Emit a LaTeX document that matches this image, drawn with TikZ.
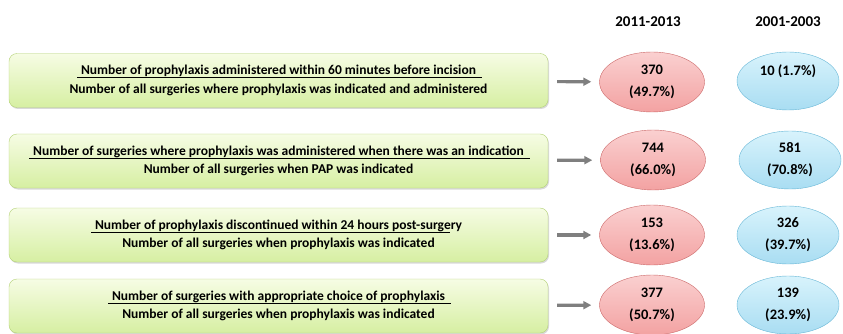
\documentclass[tikz,border=0pt]{standalone}
\usepackage{fontspec}
\setmainfont{Carlito}
\usepackage{tikz}
\usetikzlibrary{positioning,arrows.meta,shapes.geometric,shadows}

\definecolor{BoxLine}{HTML}{B4D277}
\definecolor{BoxTop}{HTML}{F6FCE4}
\definecolor{BoxBottom}{HTML}{D6EFA2}
\definecolor{RedLine}{HTML}{CC6A6A}
\definecolor{RedTop}{HTML}{FAD0D0}
\definecolor{RedBottom}{HTML}{F3A2A2}
\definecolor{BlueLine}{HTML}{66B6D6}
\definecolor{BlueTop}{HTML}{D8F3FC}
\definecolor{BlueBottom}{HTML}{A9DDF2}
\definecolor{ArrowGray}{HTML}{7F7F7F}

% numerator with the fraction line under it
\newcommand{\numline}[1]{\setbox0\hbox{#1}\rlap{\hspace{-4pt}\rule[-3.5pt]{\dimexpr\wd0+10pt\relax}{1pt}}\box0}

\begin{document}
\begin{tikzpicture}[
x=1pt, y=-1pt,
ratiobox/.style={draw=BoxLine, rounded corners=8pt, minimum width=539pt, minimum height=54pt, align=center, font=\bfseries\fontsize{13.5}{18.5}\selectfont, top color=BoxTop, bottom color=BoxBottom, drop shadow={opacity=0.3, shadow xshift=1pt, shadow yshift=-1.5pt}},
recent/.style={ellipse, draw=RedLine, minimum width=105pt, minimum height=60pt, inner sep=0pt, align=center, font=\bfseries\fontsize{14.5}{22}\selectfont, top color=RedTop, bottom color=RedBottom},
earlier/.style={ellipse, draw=BlueLine, minimum width=102pt, minimum height=58pt, inner sep=0pt, align=center, font=\bfseries\fontsize{14.5}{22}\selectfont, top color=BlueTop, bottom color=BlueBottom},
yearhead/.style={font=\bfseries\fontsize{15}{16}\selectfont},
arrow/.style={-{Triangle[length=2.8mm, width=2.8mm]}, line width=3.2pt, ArrowGray, shorten <=9pt, shorten >=8pt}
]
\useasboundingbox (0,0) rectangle (843,334);

% year headers
\node[yearhead] (periodA) at (648,22) {2011-2013};
\node[yearhead] (periodB) at (788,22) {2001-2003};

% ratios
\node[ratiobox] (timing) at (278.5,80.5) {\numline{Number of prophylaxis administered within 60 minutes before incision}\\Number of all surgeries where prophylaxis was indicated and administered};
\node[ratiobox] (indication) at (278.5,161) {\numline{Number of surgeries where prophylaxis was administered when there was an indication}\\Number of all surgeries when PAP was indicated};
\node[ratiobox] (duration) at (278.5,235) {\numline{Number of prophylaxis discontinued within 24 hours post-surg}ery\\Number of all surgeries when prophylaxis was indicated};
\node[ratiobox] (choice) at (278.5,306) {\numline{Number of surgeries with appropriate choice of prophylaxis}\\Number of all surgeries when prophylaxis was indicated};

% 2011-2013 results
\node[recent] (timingA) at (652,82) {370\\(49.7\%)};
\node[recent] (indicationA) at (653,160) {744\\(66.0\%)};
\node[recent] (durationA) at (652,235) {153\\(13.6\%)};
\node[recent] (choiceA) at (652,305) {377\\(50.7\%)};

% 2001-2003 results
\node[earlier] (timingB) at (788,81) {10 (1.7\%)\\~};
\node[earlier] (indicationB) at (790,160) {581\\(70.8\%)};
\node[earlier] (durationB) at (788,235) {326\\(39.7\%)};
\node[earlier] (choiceB) at (788,305) {139\\(23.9\%)};

\draw[arrow] (timing) -- (timingA);
\draw[arrow] (indication) -- (indicationA);
\draw[arrow] (duration) -- (durationA);
\draw[arrow] (choice) -- (choiceA);
\end{tikzpicture}
\end{document}
